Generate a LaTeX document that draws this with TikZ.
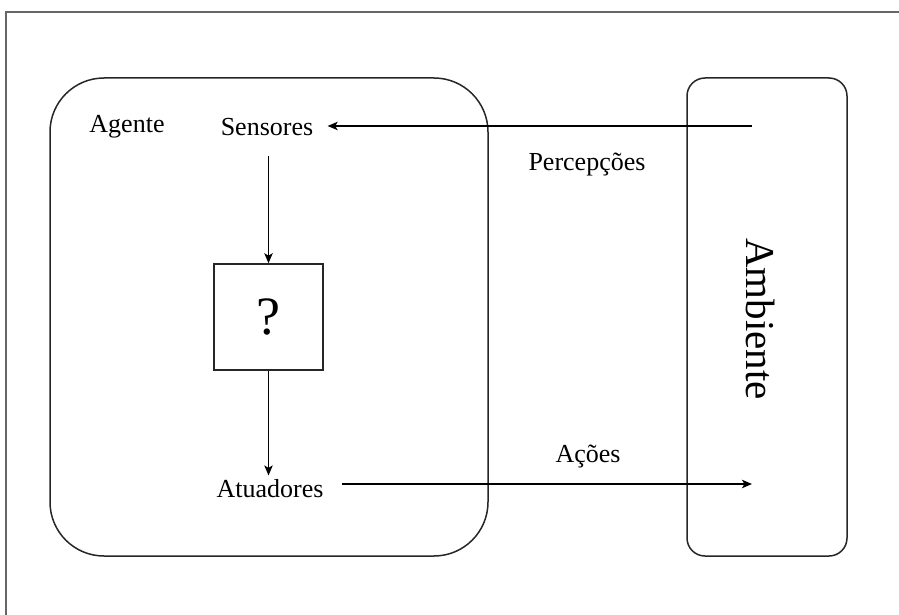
\documentclass[tikz,border=0pt]{standalone}
\usepackage{fontspec}
\setmainfont{Liberation Serif}
\usepackage{tikz}
\usetikzlibrary{arrows,arrows.meta,positioning,shapes}
\tikzstyle{rotulo}=[
	inner sep=2pt,
	font=\fontsize{13}{15}\selectfont
]
\tikzstyle{bloco}=[
	draw=black!85,
	line width=0.75pt
]
\tikzstyle{caixa}=[
	bloco,
	minimum width=54.5pt,
	minimum height=53pt,
	font=\fontsize{27}{30}\selectfont
]
\tikzstyle{seta}=[
	-{Stealth[length=5pt,width=4.2pt,inset=1.2pt]},
	line width=0.7pt,
	draw=black
]

\begin{document}
\begin{tikzpicture}[x=0.5pt,y=-0.5pt]
\useasboundingbox (0,0) rectangle (899,615);
% moldura
\draw[black!60, line width=0.8pt] (6,615) -- (6,12) -- (899,12);

% agente e ambiente
\node[bloco, rounded corners=27pt, minimum width=219pt, minimum height=239pt] (agenteBox) at (269,317) {};
\node[bloco, rounded corners=9pt, minimum width=80pt, minimum height=239pt] (ambienteBox) at (767,317) {};
\node[rotate=-90, font=\fontsize{20.5}{24}\selectfont] (ambiente) at (761,319) {Ambiente};

\node[rotulo] (agente) at (127,127) {Agente};
\node[rotulo] (sensores) at (267,127) {Sensores};
\node[caixa] (decisao) at (268.5,317) {?};
\node[rotulo] (atuadores) at (270,489) {Atuadores};
\node[rotulo] (percepcoes) at (587,165) {Percepções};
\node[rotulo] (acoes) at (588,457) {Ações};

\coordinate (entrada) at (752,126);
\coordinate (saida) at (752,484);

\draw[seta, shorten >=5pt] (entrada) -- (sensores.east |- entrada);
\draw[seta, shorten <=8pt] (decisao.north |- sensores.south) -- (decisao.north);
\draw[seta] (decisao.south) -- (decisao.south |- atuadores.north);
\draw[seta, shorten <=7pt] (atuadores.east |- saida) -- (saida);

\end{tikzpicture}
\end{document}
